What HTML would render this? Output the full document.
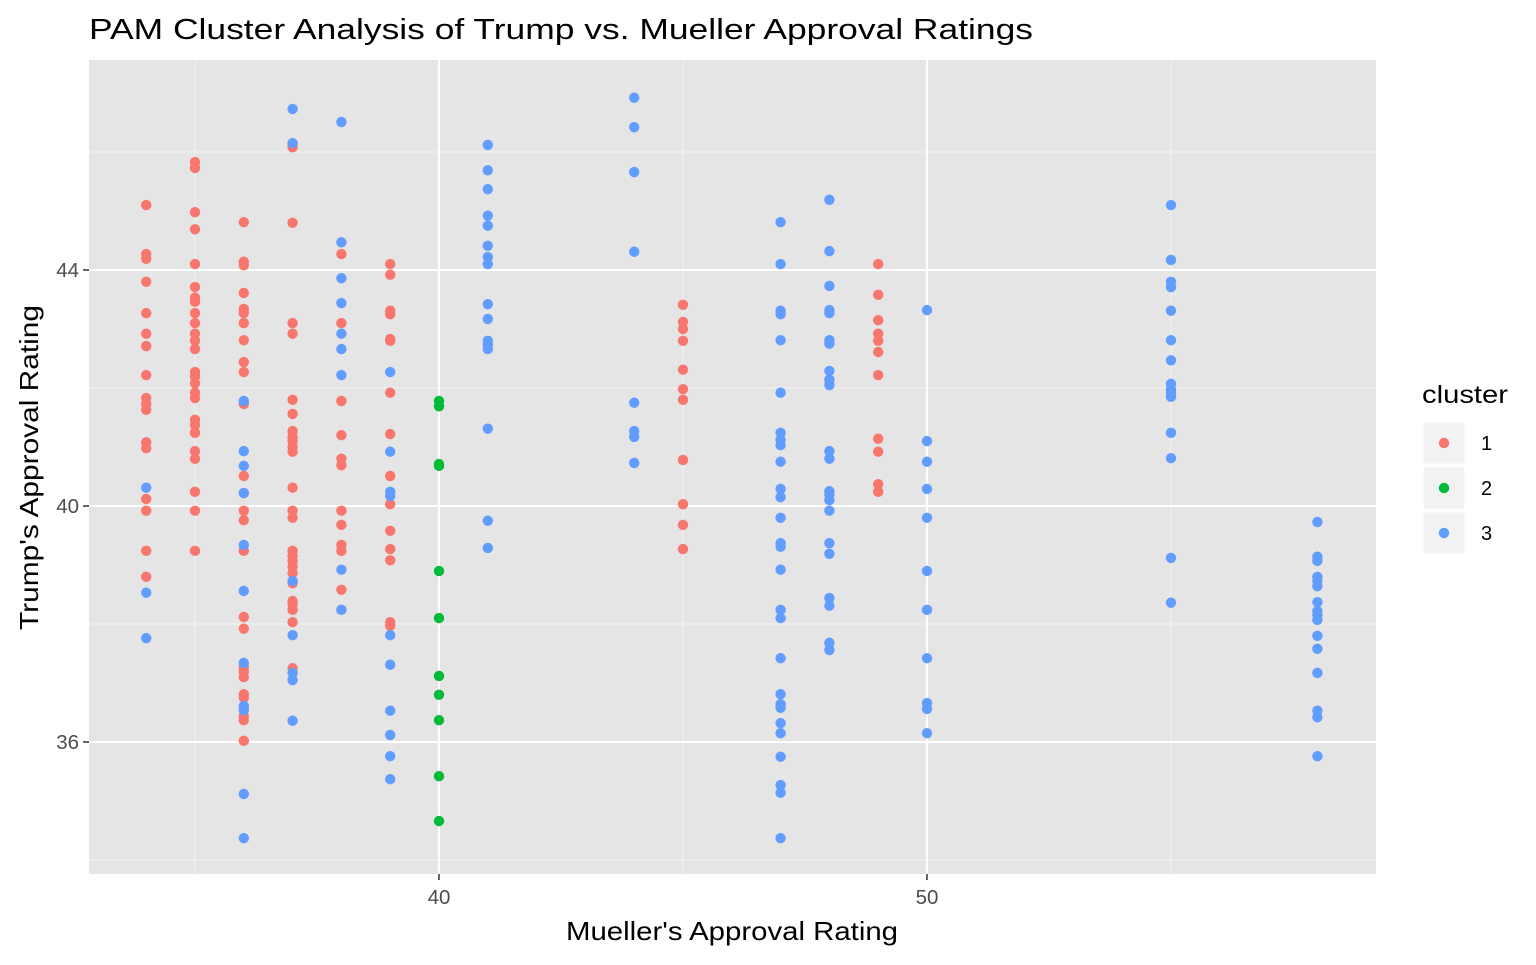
<!DOCTYPE html>
<html><head><meta charset="utf-8"><style>
body{margin:0;background:#fff;font-family:"Liberation Sans",Arial,sans-serif}
</style></head><body>
<svg id="chart" width="1536" height="960" xmlns="http://www.w3.org/2000/svg" font-family="Liberation Sans, Arial, sans-serif">
<rect width="1536" height="960" fill="#fff"/>
<text x="89" y="39" font-size="29" fill="#000" textLength="944" lengthAdjust="spacingAndGlyphs">PAM Cluster Analysis of Trump vs. Mueller Approval Ratings</text>
<rect x="89" y="60" width="1287" height="814" fill="#e5e5e5"/>
<g id="grid"></g>
<g id="points"></g>
<g id="axes"></g>
<text x="566" y="940" font-size="26" fill="#000" textLength="332" lengthAdjust="spacingAndGlyphs">Mueller's Approval Rating</text>
<text transform="translate(38,630) rotate(-90)" font-size="26" fill="#000" textLength="325" lengthAdjust="spacingAndGlyphs">Trump's Approval Rating</text>
<g>
<text x="1422" y="403" font-size="25" fill="#000" textLength="86" lengthAdjust="spacingAndGlyphs">cluster</text>
<g id="legend"></g>
</g>
</svg>
<script>
const xTicks=[40,50];
const yTicks=[36,40,44];
const xMinor=[35,45,55];
const yMinor=[34,38,42,46];
const clusterLabels=["1","2","3"];
const clusterColors=["#F8766D","#00BA38","#619CFF"];
const c1x=[34,35,36,37,38,39,45,49];
const c1y=[
[45.10,44.27,44.19,43.80,43.27,42.92,42.71,42.22,41.83,41.73,41.63,41.08,40.98,40.12,39.92,39.24,38.80],
[45.83,45.73,44.98,44.69,44.10,43.71,43.53,43.46,43.27,43.10,42.92,42.80,42.66,42.27,42.19,42.08,41.92,41.83,41.46,41.37,41.24,40.93,40.80,40.24,39.92,39.24],
[44.81,44.14,44.08,43.61,43.34,43.27,43.10,42.81,42.44,42.27,41.73,40.51,40.22,39.92,39.76,39.24,38.12,37.92,37.27,37.19,37.10,36.81,36.75,36.56,36.44,36.37,36.02],
[46.14,46.08,44.80,43.10,42.92,41.80,41.56,41.27,41.17,41.10,41.00,40.92,40.31,39.92,39.80,39.24,39.15,39.07,38.97,38.86,38.69,38.39,38.34,38.24,38.03,37.25],
[44.27,43.10,41.78,41.20,40.80,40.69,39.92,39.68,39.34,39.24,38.58],
[44.10,43.92,43.31,43.25,42.83,42.80,41.92,41.22,40.51,40.03,39.58,39.27,39.08,38.03,37.97],
[43.41,43.12,43.00,42.80,42.31,41.98,41.80,40.78,40.03,39.68,39.27],
[44.10,43.58,43.15,42.92,42.80,42.61,42.22,41.14,40.92,40.37,40.24]];
const c2x=[40];
const c2y=[[41.78,41.69,40.71,40.68,38.90,38.10,37.12,36.80,36.37,35.42,34.66]];
const c3x=[34,36,37,38,39,41,44,47,48,50,55,58];
const c3y=[
[40.31,38.53,37.76],
[41.78,40.93,40.68,40.22,39.34,38.56,37.34,36.61,36.54,35.12,34.37],
[46.73,46.15,38.73,37.81,37.17,37.05,36.36],
[46.51,44.47,43.86,43.44,42.92,42.66,42.22,38.92,38.24],
[42.27,40.92,40.24,40.17,37.81,37.31,36.53,36.12,35.76,35.37],
[46.12,45.69,45.37,44.92,44.75,44.41,44.22,44.10,43.42,43.17,42.80,42.73,42.66,41.31,39.75,39.29],
[46.92,46.42,45.66,44.31,41.75,41.27,41.17,40.73],
[44.81,44.10,43.31,43.25,42.81,41.92,41.24,41.12,41.03,40.75,40.29,40.15,39.80,39.37,39.31,38.92,38.24,38.10,37.42,36.81,36.64,36.58,36.32,36.15,35.75,35.27,35.14,34.37],
[45.19,44.32,43.73,43.32,43.27,42.81,42.75,42.29,42.14,42.05,40.93,40.80,40.25,40.19,40.10,39.92,39.37,39.19,38.44,38.31,37.68,37.56],
[43.32,41.10,40.75,40.29,39.80,38.90,38.24,37.42,36.66,36.56,36.15],
[45.10,44.17,43.80,43.71,43.31,42.81,42.47,42.07,41.97,41.92,41.85,41.24,40.81,39.12,38.36],
[39.73,39.14,39.07,38.80,38.73,38.64,38.37,38.22,38.15,38.07,37.80,37.58,37.17,36.53,36.42,35.76]];

const NS="http://www.w3.org/2000/svg";
const X=v=>439+(v-40)*48.8;
const Y=v=>506-(v-40)*59;
function mk(tag,attrs,parent){const e=document.createElementNS(NS,tag);for(const k in attrs)e.setAttribute(k,attrs[k]);parent.appendChild(e);return e;}
const grid=document.getElementById('grid'),axes=document.getElementById('axes'),pts=document.getElementById('points'),leg=document.getElementById('legend');
xMinor.forEach(v=>{const l=mk('line',{x1:X(v),x2:X(v),y1:60,y2:874,stroke:'#f2f2f2','stroke-width':1},grid);

});
yMinor.forEach(v=>{const l=mk('line',{x1:89,x2:1376,y1:Y(v),y2:Y(v),stroke:'#f2f2f2','stroke-width':1},grid);

});
xTicks.forEach(v=>{const l=mk('line',{x1:X(v),x2:X(v),y1:60,y2:874,stroke:'#fff','stroke-width':2},grid);


const t=mk('line',{x1:X(v),x2:X(v),y1:874,y2:880,stroke:'#333','stroke-width':1.5},axes);


const tx=mk('text',{x:X(v),y:904,'font-size':20.5,'text-anchor':'middle',fill:'#4d4d4d'},axes);tx.textContent=v;

});
yTicks.forEach(v=>{const l=mk('line',{x1:89,x2:1376,y1:Y(v),y2:Y(v),stroke:'#fff','stroke-width':2},grid);


const t=mk('line',{x1:83,x2:89,y1:Y(v),y2:Y(v),stroke:'#333','stroke-width':1.5},axes);


const tx=mk('text',{x:79,y:Y(v)+7,'font-size':20.5,'text-anchor':'end',fill:'#4d4d4d'},axes);tx.textContent=v;

});
function drawCluster(xs,ys,color,idx){xs.forEach((xv,i)=>{ys[i].forEach(yv=>{const c=mk('circle',{cx:X(xv),cy:Y(yv),r:5.2,fill:color},pts);

});});}
drawCluster(c1x,c1y,clusterColors[0],1);
drawCluster(c2x,c2y,clusterColors[1],2);
drawCluster(c3x,c3y,clusterColors[2],3);
clusterLabels.forEach((lab,i)=>{const y0=422+i*45;
const r=mk('rect',{x:1423,y:y0,width:42,height:42,fill:'#f2f2f2',stroke:'#fff','stroke-width':1},leg);


const c=mk('circle',{cx:1444,cy:y0+21,r:5.2,fill:clusterColors[i]},leg);


const t=mk('text',{x:1481,y:y0+28,'font-size':20,fill:'#000'},leg);t.textContent=lab;

});
</script>
</body></html>
